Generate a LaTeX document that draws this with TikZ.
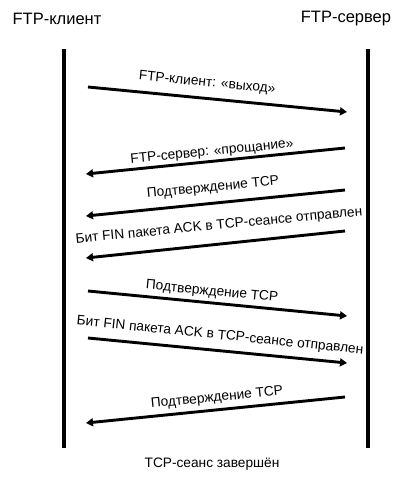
\documentclass[tikz,border=0pt]{standalone}
\usepackage{fontspec}
\setmainfont{Liberation Sans}
\usetikzlibrary{arrows.meta}
\begin{document}
\begin{tikzpicture}[x=1pt,y=-1pt,
  lifeline/.style={line width=3.2pt},
  msg/.style={line width=2.9pt,-{Triangle[length=7pt,width=8pt]}},
  party/.style={font=\fontsize{16.5}{18}\selectfont,inner sep=0pt},
  msglabel/.style={font=\fontsize{13.7}{15}\selectfont,inner sep=0pt}]
  \useasboundingbox[fill=white] (0,0) rectangle (396,479);

  % participants
  \node[party] (client) at (57,19) {FTP-клиент};
  \node[party] (server) at (346,19) {FTP-сервер};

  % lifelines
  \coordinate (cTop) at (64,49);  \coordinate (cBot) at (64,448);
  \coordinate (sTop) at (368,49); \coordinate (sBot) at (368,448);
  \draw[lifeline] (cTop) -- (cBot);
  \draw[lifeline] (sTop) -- (sBot);

  % message end points
  \coordinate (m1a) at (88,87);   \coordinate (m1b) at (347,112);
  \coordinate (m2a) at (345,148); \coordinate (m2b) at (86,174);
  \coordinate (m3a) at (345,190); \coordinate (m3b) at (86,216);
  \coordinate (m4a) at (345,231); \coordinate (m4b) at (86,258);
  \coordinate (m5a) at (88,291);  \coordinate (m5b) at (347,316);
  \coordinate (m6a) at (88,338);  \coordinate (m6b) at (347,363);
  \coordinate (m7a) at (345,397); \coordinate (m7b) at (86,423);

  % messages
  \draw[msg] (m1a) -- (m1b);
  \draw[msg] (m2a) -- (m2b);
  \draw[msg] (m3a) -- (m3b);
  \draw[msg] (m4a) -- (m4b);
  \draw[msg] (m5a) -- (m5b);
  \draw[msg] (m6a) -- (m6b);
  \draw[msg] (m7a) -- (m7b);

  % message labels
  \node[msglabel,rotate=-5.5] (l1) at (207,83) {FTP-клиент: «выход»};
  \node[msglabel,rotate=5.5]  (l2) at (212,152) {FTP-сервер: «прощание»};
  \node[msglabel,rotate=5.5]  (l3) at (213,188) {Подтверждение TCP};
  \node[msglabel,rotate=5.5]  (l4) at (219,226) {Бит FIN пакета ACK в TCP-сеансе отправлен};
  \node[msglabel,rotate=-5.5] (l5) at (212,292) {Подтверждение TCP};
  \node[msglabel,rotate=-5.8] (l6) at (220,336) {Бит FIN пакета ACK в TCP-сеансе отправлен};
  \node[msglabel,rotate=5.5]  (l7) at (217,398) {Подтверждение TCP};

  % closing note
  \node[msglabel] (done) at (212,464) {TCP-сеанс завершён};
\end{tikzpicture}
\end{document}
